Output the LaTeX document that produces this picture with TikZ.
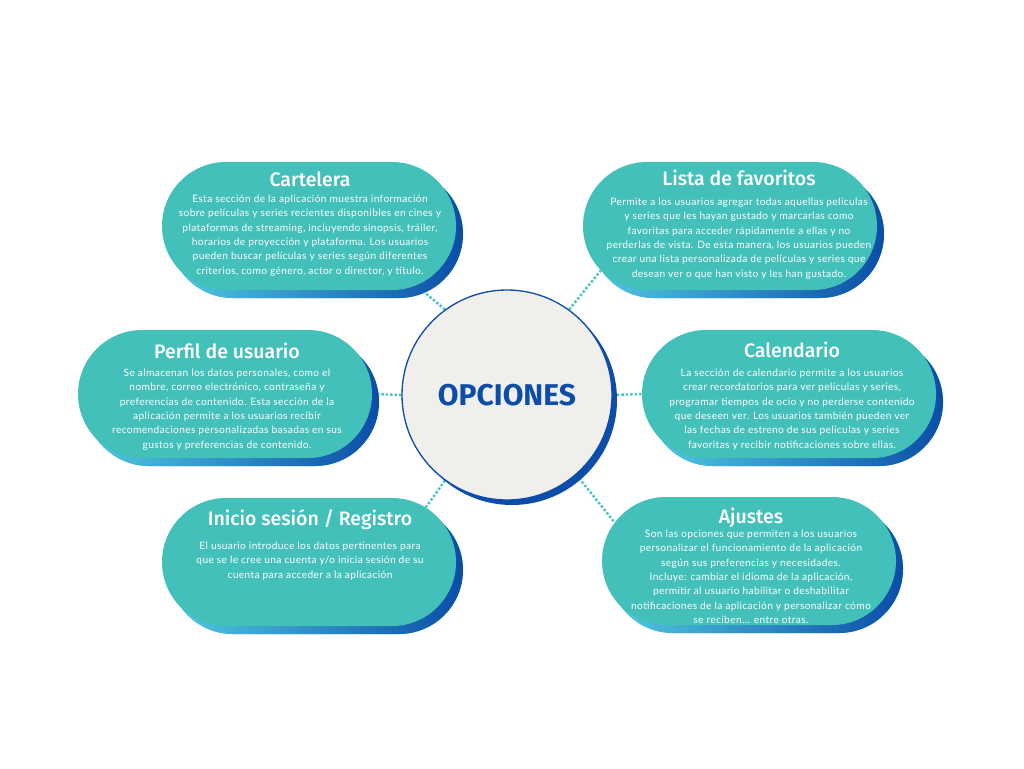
\documentclass[tikz,border=0pt]{standalone}
\usepackage{fontspec}
\setmainfont{Lato}[LetterSpace=3.5]
\newfontfamily\headfont{Fira Sans Medium}
\newfontfamily\hubfont{Fira Sans}
\usetikzlibrary{positioning,shapes.misc,backgrounds}
\definecolor{pillteal}{HTML}{43C0B9}
\definecolor{deepblue}{HTML}{0B4DA8}
\definecolor{skyblue}{HTML}{52CBE2}
\definecolor{paper}{HTML}{F0EFEB}
\definecolor{dotteal}{HTML}{45C3BE}
\tikzset{
  pill/.style={rounded rectangle, minimum width=294pt, minimum height=128pt, fill=pillteal, inner sep=0pt},
  pillshadow/.style={pill, left color=skyblue, right color=deepblue},
  hub/.style={circle, minimum size=210pt, fill=paper, draw=deepblue, line width=1.3pt, text=deepblue,
    font=\hubfont\bfseries\fontsize{30}{36}\selectfont},
  hubshadow/.style={circle, minimum size=210pt, fill=deepblue},
  ttl/.style={font=\headfont\fontsize{19.5}{22}\selectfont, text=white, inner sep=0pt, anchor=base},
  body/.style={font=\fontsize{10.2}{14.3}\selectfont, text=white, align=center, inner sep=0pt},
  link/.style={dotteal, line width=2.4pt, dash pattern=on 2.4pt off 2pt},
}
\begin{document}
\begin{tikzpicture}[x=1pt,y=-1pt]
\useasboundingbox (0,0) rectangle (1024,768);
% shadows behind the pills
\foreach \n/\x/\y in {cart/309/226, lista/730/226, perfil/225/394, cal/789/394, inicio/309/562, ajustes/749/561}
  \node[pillshadow] (\n-s) at (\x+7,\y+8) {};
\node[pill] (cart) at (309,226) {};
\node[pill] (lista) at (730,226) {};
\node[pill] (perfil) at (225,394) {};
\node[pill] (cal) at (789,394) {};
\node[pill] (inicio) at (309,562) {};
\node[pill] (ajustes) at (749,561) {};
% centre
\node[hubshadow] (opc-s) at (512,400) {};
\node[hub] (opc) at (507,395) {OPCIONES};
% titles and texts
\node[ttl] (cartT) at ([xshift=1pt,yshift=-25pt]cart.north) {Cartelera};
\node[body, below=8pt of cartT.base] (cartB) {Esta sección de la aplicación muestra información\\
sobre películas y series recientes disponibles en cines y\\
plataformas de streaming, incluyendo sinopsis, tráiler,\\
horarios de proyección y plataforma. Los usuarios\\
pueden buscar películas y series según diferentes\\
criterios, como género, actor o director, y título.};
\node[ttl] (listaT) at ([xshift=9pt,yshift=-24pt]lista.north) {Lista de favoritos};
\node[body, below=12pt of listaT.base] (listaB) {Permite a los usuarios agregar todas aquellas películas\\
y series que les hayan gustado y marcarlas como\\
favoritas para acceder rápidamente a ellas y no\\
perderlas de vista. De esta manera, los usuarios pueden\\
crear una lista personalizada de películas y series que\\
desean ver o que han visto y les han gustado.};
\node[ttl] (perfilT) at ([xshift=2pt,yshift=-29pt]perfil.north) {Perfil de usuario};
\node[body, below=10pt of perfilT.base] (perfilB) {Se almacenan los datos personales, como el\\
nombre, correo electrónico, contraseña y\\
preferencias de contenido. Esta sección de la\\
aplicación permite a los usuarios recibir\\
recomendaciones personalizadas basadas en sus\\
gustos y preferencias de contenido.};
\node[ttl] (calT) at ([xshift=3pt,yshift=-28pt]cal.north) {Calendario};
\node[body, below=11pt of calT.base] (calB) {La sección de calendario permite a los usuarios\\
crear recordatorios para ver películas y series,\\
programar tiempos de ocio y no perderse contenido\\
que deseen ver. Los usuarios también pueden ver\\
las fechas de estreno de sus películas y series\\
favoritas y recibir notificaciones sobre ellas.};
\node[ttl] (inicioT) at ([xshift=1pt,yshift=-28pt]inicio.north) {Inicio sesión / Registro};
\node[body, below=16pt of inicioT.base] (inicioB) {El usuario introduce los datos pertinentes para\\
que se le cree una cuenta y/o inicia sesión de su\\
cuenta para acceder a la aplicación};
\node[ttl] (ajustesT) at ([xshift=2pt,yshift=-27pt]ajustes.north) {Ajustes};
\node[body, below=6pt of ajustesT.base] (ajustesB) {Son las opciones que permiten a los usuarios\\
personalizar el funcionamiento de la aplicación\\
según sus preferencias y necesidades.\\
Incluye: cambiar el idioma de la aplicación,\\
permitir al usuario habilitar o deshabilitar\\
notificaciones de la aplicación y personalizar cómo\\
se reciben... entre otras.};
% dotted links, kept behind everything
\begin{scope}[on background layer]
\fill[white] (0,0) rectangle (1024,768);
\draw[link] (opc.126) -- (cart.-29);
\draw[link] (opc.54) -- (lista.199);
\draw[link] (opc.west) -- (perfil.east);
\draw[link] (opc.east) -- (cal.west);
\draw[link] (opc.234) -- (inicio.25);
\draw[link] (opc.311) -- (ajustes.164);
\end{scope}
\end{tikzpicture}
\end{document}
